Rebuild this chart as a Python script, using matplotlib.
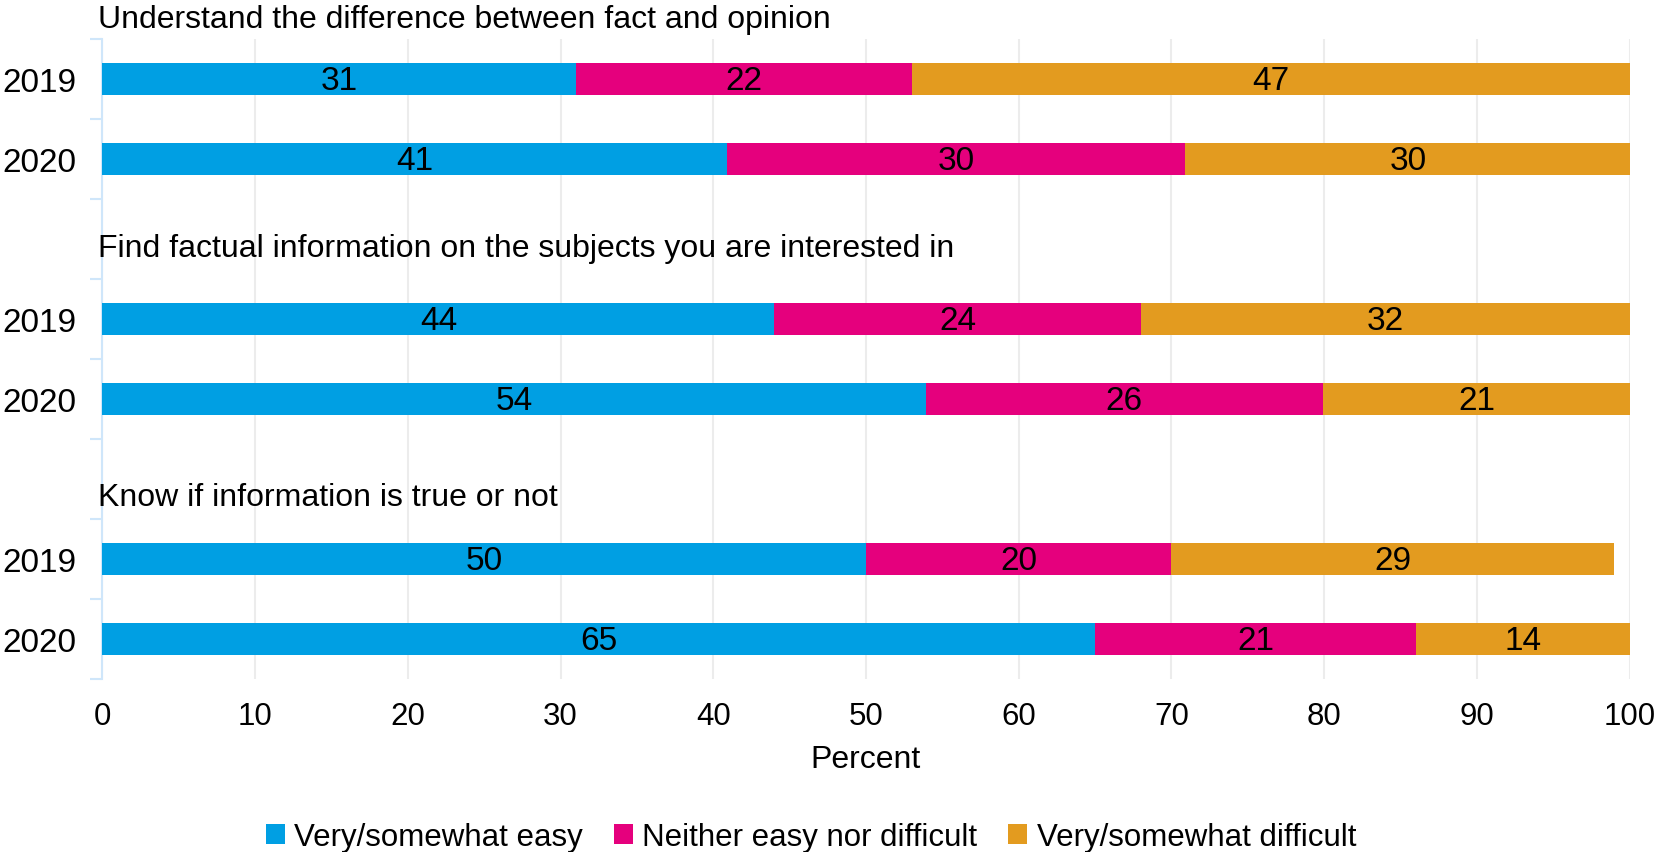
import matplotlib
matplotlib.use("Agg")
import matplotlib.pyplot as plt
from matplotlib.patches import Patch

plt.rcParams['font.family'] = ['Liberation Sans', 'DejaVu Sans']

groups = ["Understand the difference between fact and opinion",
          "Find factual information on the subjects you are interested in",
          "Know if information is true or not"]
years = ["2019", "2020"]
series = ["Very/somewhat easy", "Neither easy nor difficult", "Very/somewhat difficult"]
colors = ["#009fe3", "#e5007d", "#e39b1f"]

# bar lengths per group, per year
easy = [[31, 40.9], [44, 53.9], [50, 65]]
neither = [[22, 30.0], [24, 26.0], [20, 21]]
difficult = [[47, 29.2], [32, 20.2], [29, 14]]
# printed labels
easy_lbl = [["31", "41"], ["44", "54"], ["50", "65"]]
neither_lbl = [["22", "30"], ["24", "26"], ["20", "21"]]
difficult_lbl = [["47", "30"], ["32", "21"], ["29", "14"]]

fig = plt.figure(figsize=(16.56, 8.53), dpi=100)
ax = fig.add_axes([102.4 / 1656, 1 - 680 / 853, (1629.6 - 102.4) / 1656, 640 / 853])

vals = [easy, neither, difficult]
lbls = [easy_lbl, neither_lbl, difficult_lbl]
bar_pos = []
bar_lab = []
title_pos = [-0.75, 2.11, 5.225]
for g in range(3):
    for yi in range(2):
        y = g * 3 + yi
        bar_pos.append(y)
        bar_lab.append(years[yi])
        left = 0
        for s in range(3):
            v = vals[s][g][yi]
            ax.barh(y, v, left=left, height=0.4, color=colors[s], linewidth=0, zorder=3)
            ax.text(left + v / 2, y + 0.02, lbls[s][g][yi], ha='center', va='center',
                    fontsize=24, color='black', zorder=4)
            left += v
    ax.text(-0.3, title_pos[g], groups[g], ha='left', va='center', fontsize=23,
            clip_on=False)

ax.set_xlim(0, 100)
ax.set_ylim(7.5, -0.5)
ax.set_xticks(range(0, 101, 10))
ax.tick_params(axis='x', length=0, labelsize=22.5, pad=16)
ax.xaxis.grid(True, color='#ececec', linewidth=1.5, zorder=0)
ax.set_yticks([i - 0.5 for i in range(9)])
ax.set_yticklabels([])
ax.set_yticks(bar_pos, minor=True)
ax.set_yticklabels(bar_lab, minor=True)
ax.tick_params(axis='y', which='major', length=9, color='#cfe6fa', width=1.5)
ax.tick_params(axis='y', which='minor', length=0, labelsize=24, pad=19)
for sp in ['top', 'right', 'bottom']:
    ax.spines[sp].set_visible(False)
ax.spines['left'].set_color('#cfe6fa')
ax.spines['left'].set_linewidth(1.5)
ax.set_xlabel("Percent", fontsize=23, labelpad=9)

handles = [Patch(facecolor=c, edgecolor='none') for c in colors]
fig.legend(handles, series, loc='center', bbox_to_anchor=(811 / 1656, 1 - 838 / 853),
           ncol=3, frameon=False, fontsize=22.5, handlelength=0.6, handleheight=0.6,
           handletextpad=0.3, columnspacing=1.0, borderaxespad=0)

fig.savefig("out.png", dpi=100)
